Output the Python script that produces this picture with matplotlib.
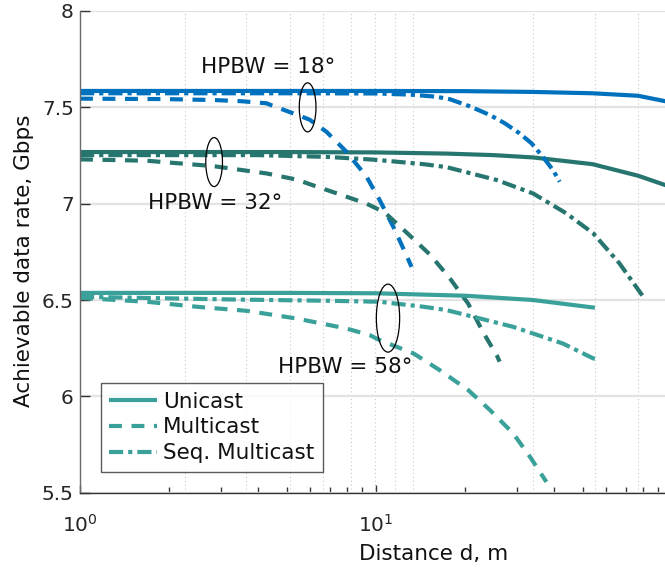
import matplotlib
matplotlib.use('Agg')
import matplotlib.pyplot as plt
from matplotlib.patches import Ellipse
from matplotlib.transforms import ScaledTranslation
from matplotlib.ticker import FixedLocator, FormatStrFormatter, LogLocator, NullFormatter

plt.rcParams['font.family'] = ['DejaVu Sans']
plt.rcParams['mathtext.fontset'] = 'dejavusans'

# ---------------- data (distance in m, rate in Gbps) ----------------
# HPBW = 18 deg
uni18_x = [1, 5, 10, 20, 34, 54, 77, 100]
uni18_y = [7.585, 7.585, 7.585, 7.584, 7.580, 7.573, 7.560, 7.525]
mul18_x = [1, 1.91, 2.82, 3.5, 4.27, 4.43, 5.40, 5.97, 6.81, 7.96, 9.30, 10.3, 11.6, 12.9, 13.2]
mul18_y = [7.545, 7.543, 7.538, 7.532, 7.521, 7.511, 7.462, 7.436, 7.373, 7.269, 7.140, 7.019, 6.863, 6.707, 6.672]
seq18_x = [1, 5, 10, 13.1, 16.0, 17.8, 20.8, 24.3, 27.3, 30.6, 33.6, 36.7, 39.7, 41.8]
seq18_y = [7.573, 7.573, 7.572, 7.566, 7.555, 7.542, 7.505, 7.460, 7.417, 7.365, 7.313, 7.243, 7.174, 7.114]

# HPBW = 32 deg
uni32_x = [1, 5, 10, 17.3, 25, 34, 54, 77, 100]
uni32_y = [7.268, 7.268, 7.266, 7.260, 7.252, 7.240, 7.205, 7.145, 7.085]
mul32_x = [1, 1.68, 2.82, 4.27, 5.4, 6.14, 7.5, 9.3, 10.7, 12.85, 15.3, 17.8, 20.5, 23.0, 25.7, 26.2]
mul32_y = [7.230, 7.223, 7.195, 7.157, 7.125, 7.095, 7.050, 7.000, 6.955, 6.843, 6.733, 6.612, 6.482, 6.335, 6.209, 6.180]
seq32_x = [1, 4, 6.81, 9.94, 14.5, 17.3, 25.6, 34.0, 44.0, 54.3, 66.6, 80.1, 81.3]
seq32_y = [7.252, 7.252, 7.243, 7.228, 7.205, 7.190, 7.123, 7.053, 6.950, 6.846, 6.690, 6.517, 6.508]

# HPBW = 58 deg
uni58_x = [1, 5, 10, 20.2, 34, 55]
uni58_y = [6.537, 6.537, 6.535, 6.522, 6.500, 6.460]
mul58_x = [1, 1.08, 1.68, 2.48, 3.66, 5.40, 7.96, 9.53, 10.3, 13.4, 16.4, 20.5, 24.3, 29.1, 33.2, 37.7]
mul58_y = [6.512, 6.508, 6.491, 6.465, 6.444, 6.404, 6.352, 6.318, 6.292, 6.223, 6.137, 6.033, 5.929, 5.808, 5.686, 5.556]
seq58_x = [1, 3.21, 6.99, 10.3, 14.5, 17.3, 29.1, 42.9, 54.3, 55]
seq58_y = [6.517, 6.503, 6.496, 6.491, 6.465, 6.448, 6.361, 6.274, 6.197, 6.195]

legend_labels = ['Unicast', 'Multicast', 'Seq. Multicast']
yticks = [5.5, 6, 6.5, 7, 7.5, 8]
# dotted vertical guide lines seen in the picture
grid_x = [2.26, 3.64, 5.12, 6.64, 8.23, 9.92, 11.6, 13.3, 34.0, 55.0, 76.9]

# annotations: text, (x, y) baseline centre; ellipse centre and size (inches)
ann_texts = ['HPBW = 18°', 'HPBW = 32°', 'HPBW = 58°']
ann_pos = [(4.32, 7.677), (2.87, 6.972), (7.88, 6.119)]
ell_pos = [(5.88, 7.500), (2.84, 7.216), (10.99, 6.406)]
ell_size = [(0.167, 0.49), (0.167, 0.49), (0.233, 0.68)]

# ---------------- styles ----------------
C18 = '#0072BD'
C32 = '#26766F'
C58 = '#3AA19A'
LW = 3
DASH = (0, (3.1, 2.3))
DASHDOT = (0, (3.4, 1.2, 1.0, 1.2))

fig = plt.figure(figsize=(6.65, 5.69), dpi=100)
ax = fig.add_axes([80 / 665, (569 - 492.7) / 569, (665 - 80) / 665, (492.7 - 11) / 569])
ax.set_xscale('log')
ax.set_xlim(1, 94.9)
ax.set_ylim(5.5, 8)

# grid
for gx in grid_x:
    ax.axvline(gx, color='#c8c8c8', lw=0.8, ls=(0, (1, 2.5)), zorder=0)
ax.yaxis.grid(True, color='#e3e3e3', lw=1.6, zorder=0)
ax.set_axisbelow(True)

for xs, ys, c in [(uni18_x, uni18_y, C18), (uni32_x, uni32_y, C32)]:
    ax.plot(xs, ys, color=c, lw=LW, solid_capstyle='butt')
for xs, ys, c in [(seq18_x, seq18_y, C18), (seq32_x, seq32_y, C32)]:
    ax.plot(xs, ys, color=c, lw=LW, ls=DASHDOT, dash_capstyle='butt')
for xs, ys, c in [(mul18_x, mul18_y, C18), (mul32_x, mul32_y, C32)]:
    ax.plot(xs, ys, color=c, lw=LW, ls=DASH, dash_capstyle='butt')

l1, = ax.plot(uni58_x, uni58_y, color=C58, lw=LW, solid_capstyle='butt')
l3, = ax.plot(seq58_x, seq58_y, color=C58, lw=LW, ls=DASHDOT, dash_capstyle='butt')
l2, = ax.plot(mul58_x, mul58_y, color=C58, lw=LW, ls=DASH, dash_capstyle='butt')

# annotations
for t, (tx, ty) in zip(ann_texts, ann_pos):
    ax.text(tx, ty, t, ha='center', va='baseline', fontsize=15.5, color='#111111')
for (ex, ey), (w, h) in zip(ell_pos, ell_size):
    tr = fig.dpi_scale_trans + ScaledTranslation(ex, ey, ax.transData)
    ax.add_patch(Ellipse((0, 0), w, h, transform=tr, fill=False, ec='black', lw=0.9, zorder=5))

# axes styling
ax.spines['top'].set_visible(False)
ax.spines['right'].set_visible(False)
ax.spines['left'].set_color('#6a6a6a')
ax.spines['bottom'].set_color('#333333')
ax.spines['left'].set_linewidth(1.0)
ax.spines['bottom'].set_linewidth(1.0)

ax.yaxis.set_major_locator(FixedLocator(yticks))
ax.yaxis.set_major_formatter(FormatStrFormatter('%g'))
ax.xaxis.set_major_locator(LogLocator(base=10, numticks=10))
ax.xaxis.set_minor_locator(LogLocator(base=10, subs=range(2, 10), numticks=20))
ax.xaxis.set_minor_formatter(NullFormatter())
ax.tick_params(axis='both', which='both', direction='in', colors='#333333', labelcolor='#262626')
ax.tick_params(axis='y', which='major', length=7, width=1, pad=4.5, labelsize=14.5)
ax.tick_params(axis='x', which='major', length=6, width=1, pad=15, labelsize=14.5)
ax.tick_params(axis='x', which='minor', length=4, width=1)

ax.set_xlabel('Distance d, m', fontsize=15.5, labelpad=6, color='#111111')
ax.set_ylabel('Achievable data rate, Gbps', fontsize=15.5, labelpad=6, color='#111111')
ax.xaxis.label.set_x(0.605)
ax.yaxis.label.set_y(0.481)

leg = ax.legend([l1, l2, l3], legend_labels, loc='lower left', bbox_to_anchor=(0.0354, 0.0436),
                borderaxespad=0, fontsize=15.5, frameon=True, fancybox=False, shadow=False,
                handlelength=2.2, handletextpad=0.3, labelspacing=0.26, borderpad=0.4)
leg.get_frame().set_edgecolor('#333333')
leg.get_frame().set_linewidth(1.0)
for t in leg.get_texts():
    t.set_color('#111111')

fig.savefig('out.png', dpi=100)
